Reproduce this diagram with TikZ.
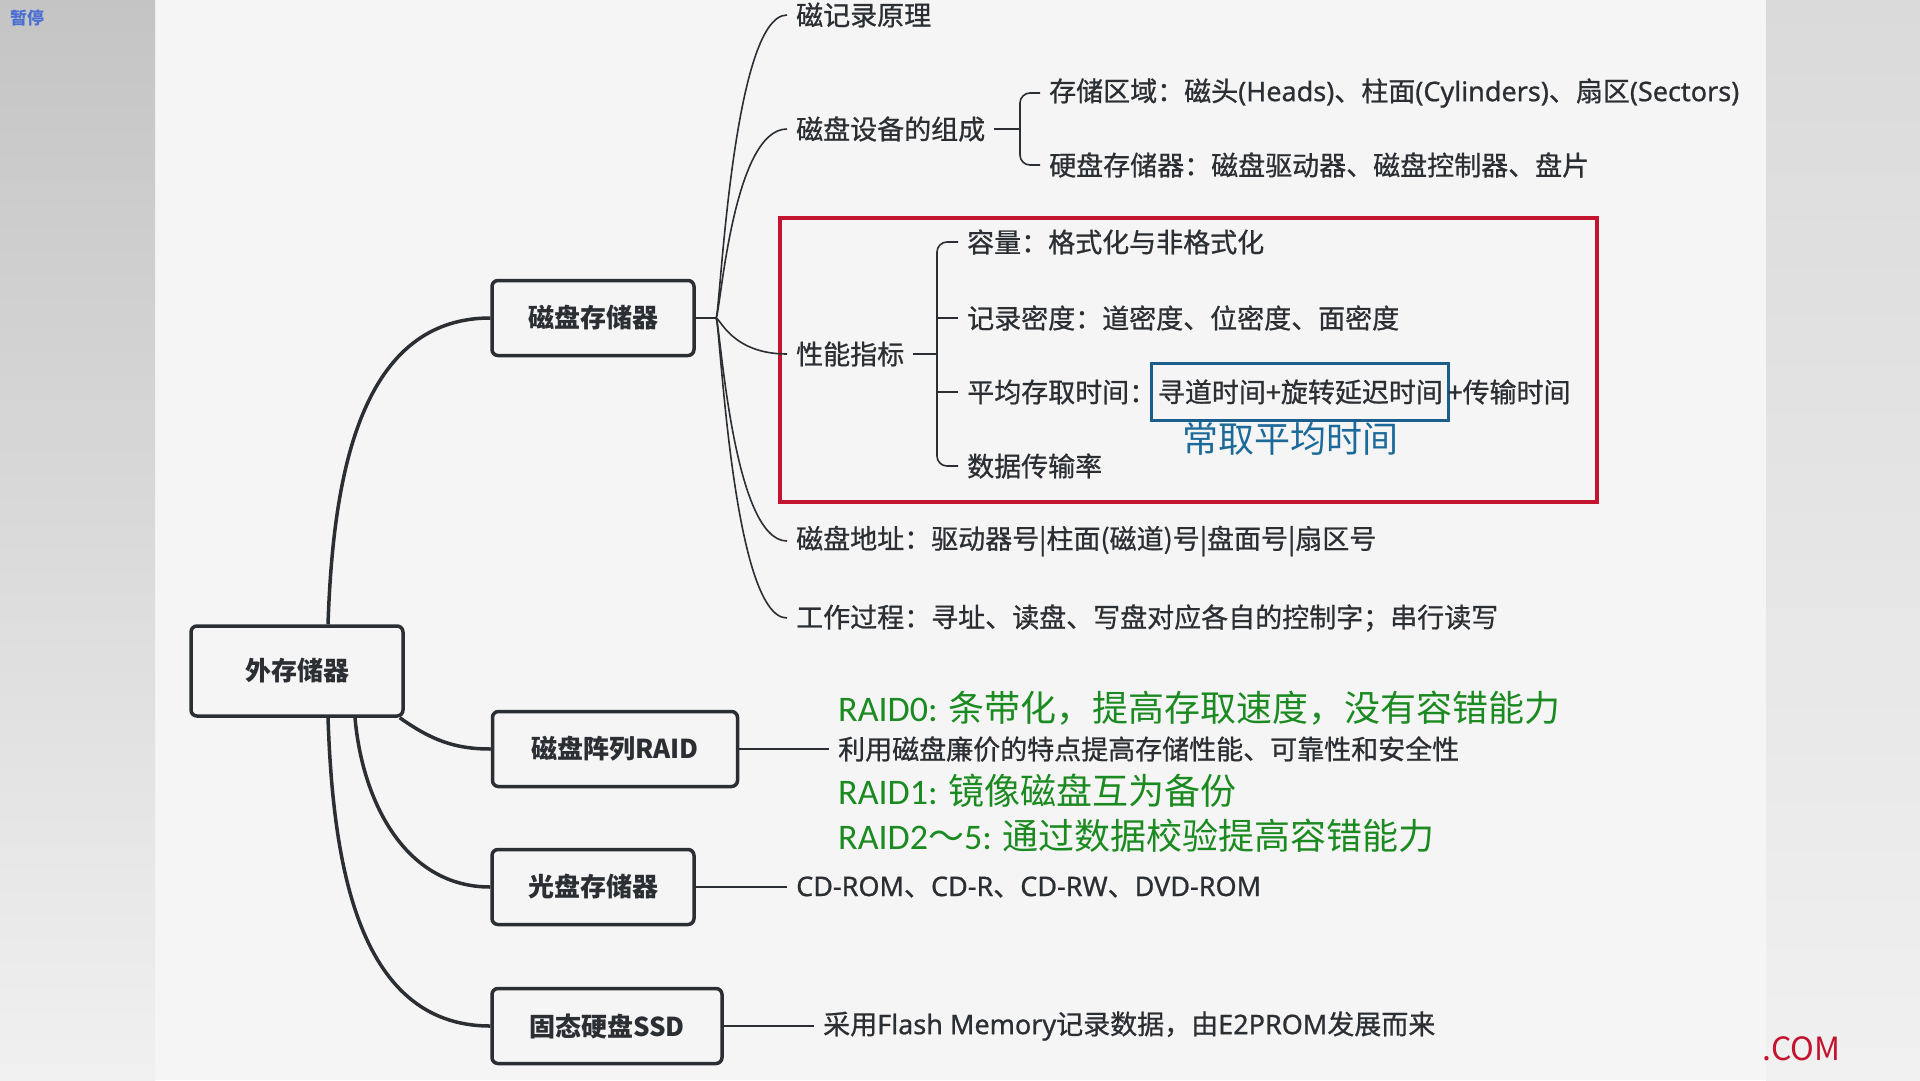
\documentclass[tikz,border=0pt]{standalone}
\usepackage{fontspec}
\setmainfont{Noto Sans CJK SC}
\newfontfamily\calib{Carlito}
\newfontfamily\heavy{Noto Sans CJK SC}[FakeBold=0.8]
\newfontfamily\latn{Noto Sans}[FakeBold=0.8]
\usetikzlibrary{positioning}
\definecolor{ink}{HTML}{2B2F33}
\definecolor{paper}{HTML}{F5F5F5}
\definecolor{side}{HTML}{DADADA}
\definecolor{raidgreen}{HTML}{1B8A20}
\definecolor{markred}{HTML}{C3132F}
\definecolor{markblue}{HTML}{1A5F8C}
\definecolor{noteblue}{HTML}{1C6A99}
\definecolor{pauseblue}{HTML}{4A6FD2}
\newcommand{\sz}[1]{\fontsize{#1}{#1}\selectfont}

\begin{document}
\begin{tikzpicture}[x=1pt,y=1pt]
  \tikzstyle{topic}=[draw=ink,line width=3.5pt,rounded corners=6pt,fill=paper,
    minimum height=75pt,inner sep=0pt,font=\sz{26}\bfseries,text=ink]
  \tikzstyle{word}=[inner xsep=9pt,inner ysep=2pt,anchor=west,font=\sz{27}\heavy,text=ink]
  \tikzstyle{raid}=[word,font=\sz{36}\normalfont,text=raidgreen]
  \tikzstyle{hilite}=[draw=markblue,line width=3pt,minimum height=57pt,
    inner xsep=6pt,font=\sz{27}\heavy,text=ink]
  \tikzstyle{branch}=[draw=ink,line width=3.5pt]
  \tikzstyle{twig}=[draw=ink,line width=1.6pt]

  \useasboundingbox (0,0) rectangle (1920,-1080);
  \fill[paper] (0,0) rectangle (1920,-1080);
  \shade[top color=side!90!black,bottom color=side!40!white] (0,0) rectangle (155,-1080);
  \shade[top color=side,bottom color=side!40!white] (1766,0) rectangle (1920,-1080);

  \node[text=pauseblue,font=\sz{17}\bfseries,anchor=north west,inner sep=0pt] (P) at (10,-10) {暂停};

  \node[topic,minimum width=212pt,minimum height=90pt] (R) at (297,-671) {外存储器};
  \node[topic,minimum width=202pt] (D) at (593,-318) {磁盘存储器};
  \node[topic,minimum width=245pt] (A) at (615,-749) {磁盘阵列RAID};
  \node[topic,minimum width=202pt] (O) at (593,-887) {光盘存储器};
  \node[topic,minimum width=230pt] (S) at (607,-1026) {固态硬盘SSD};

  \node[word] (D1) at (787,-15) {磁记录原理};
  \node[word] (D2) at (787,-129) {磁盘设备的组成};
  \node[word] (D21) at (1040,-93) {存储区域：磁头{\latn(Heads)}、柱面{\latn(Cylinders)}、扇区{\latn(Sectors)}};
  \node[word] (D22) at (1040,-165) {硬盘存储器：磁盘驱动器、磁盘控制器、盘片};
  \node[word] (D3) at (787,-354) {性能指标};
  \node[word] (D31) at (958,-242) {容量：格式化与非格式化};
  \node[word] (D32) at (958,-318) {记录密度：道密度、位密度、面密度};
  \node[word] (D33) at (958,-392) {平均存取时间：};
  \node[hilite,right=-15pt of D33] (D34) {寻道时间+旋转延迟时间};
  \node[word,inner xsep=0pt,right=-3pt of D34] (D35) {+传输时间};
  \node[text=noteblue,font=\sz{36},inner sep=0pt,below=0pt of D34,xshift=-10pt] (N) {常取平均时间};
  \node[word] (D36) at (958,-466) {数据传输率};
  \node[word] (D4) at (787,-541) {磁盘地址：驱动器号|柱面(磁道)号|盘面号|扇区号};
  \node[word] (D5) at (787,-618) {工作过程：寻址、读盘、写盘对应各自的控制字；串行读写};

  \node[raid] (A0) at (829,-708) {{\calib RAID0:} 条带化，提高存取速度，没有容错能力};
  \node[word,font=\sz{27}\heavy] (A1) at (829,-749) {利用磁盘廉价的特点提高存储性能、可靠性和安全性};
  \node[raid] (A2) at (829,-791) {{\calib RAID1:} 镜像磁盘互为备份};
  \node[raid] (A3) at (829,-836) {{\calib RAID2}～{\calib 5:} 通过数据校验提高容错能力};

  \node[word] (O1) at (787,-887) {{\latn CD-ROM}、{\latn CD-R}、{\latn CD-RW}、{\latn DVD-ROM}};
  \node[word] (S1) at (814,-1026) {采用{\latn Flash Memory}记录数据，由{\latn E2PROM}发展而来};

  \node[text=markred,font=\sz{32},anchor=west,inner sep=0pt] (C) at (1762,-1049) {.COM};

  \draw[markred,line width=3.5pt] (780,-218) rectangle (1597,-502);

  \path ([xshift=31pt]R.north) edge[branch,out=88,in=180] (D.west);
  \path ([xshift=-5pt]R.south east) edge[branch,out=-35,in=180] (A.west);
  \path ([xshift=58pt]R.south) edge[branch,out=-85,in=180] (O.west);
  \path ([xshift=31pt]R.south) edge[branch,out=-88,in=180] (S.west);

  \coordinate (F) at (716,-318);
  \draw[twig] (D.east) -- (F);
  \foreach \n in {D1,D2,D3,D4,D5}
    \draw[twig] (F) .. controls +(4,0) and +(-55,0) .. (\n.west);

  \coordinate (B2) at (1020,-129);
  \draw[twig] (D2.east) -- (B2);
  \draw[twig,rounded corners=10pt] (D21.west) -| (B2) |- (D22.west);

  \coordinate (B3) at (937,-354);
  \draw[twig] (D3.east) -- (B3);
  \draw[twig,rounded corners=10pt] (D31.west) -| (B3) |- (D36.west);
  \draw[twig] (B3 |- D32.west) -- (D32.west);
  \draw[twig] (B3 |- D33.west) -- (D33.west);

  \draw[twig] (A.east) -- (A1.west);
  \draw[twig] (O.east) -- (O1.west);
  \draw[twig] (S.east) -- (S1.west);
\end{tikzpicture}
\end{document}
